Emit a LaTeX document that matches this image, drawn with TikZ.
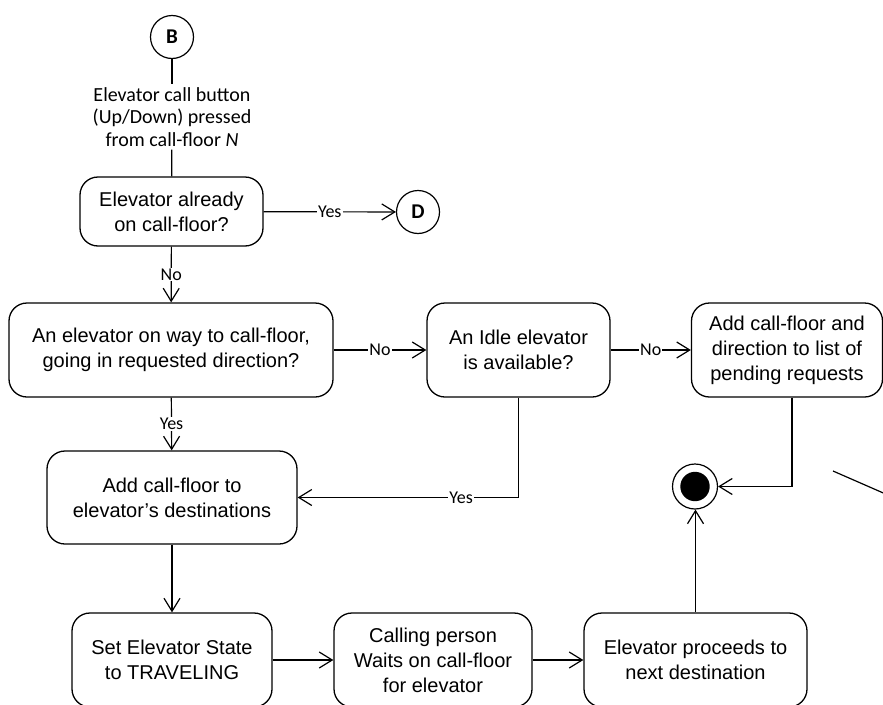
\documentclass[tikz,border=0pt]{standalone}
\usepackage{fontspec}
\usetikzlibrary{arrows.meta,positioning}
\newfontfamily\boxfont{Liberation Sans}
\newfontfamily\calfont{Carlito}

\tikzset{
  act/.style={draw, rounded corners=18pt, line width=1.3pt, align=center,
    inner sep=0pt, font={\boxfont\fontsize{20}{25}\selectfont}},
  conn/.style={draw, circle, line width=1.2pt, minimum size=43pt, inner sep=0pt,
    font={\calfont\bfseries\fontsize{21}{24}\selectfont}},
  flow/.style={line width=1.2pt},
  arr/.style={flow, -{Straight Barb[length=13pt,width=16pt,line width=1.2pt]}},
  lbl/.style={fill=white, inner sep=1pt, font={\calfont\fontsize{18}{20}\selectfont}},
}

\begin{document}
\begin{tikzpicture}[x=1pt, y=-1pt]
  \clip (0,0) rectangle (883,704);
  \fill[white] (0,0) rectangle (883,704);

  % entry connector and trigger event
  \node[conn] (B) at (172,37) {B};
  \node[align=center, inner sep=3pt, font={\calfont\fontsize{20}{22.5}\selectfont}]
    (trig) at (172,117) {Elevator call button\\(Up/Down) pressed\\from call-floor \textit{N}};

  % activities and decisions
  \node[act, minimum width=183pt, minimum height=69pt] (b1) at (171.5,211.5)
    {Elevator already\\on call-floor?};
  \node[conn] (D) at (418,212) {D};
  \node[act, minimum width=324pt, minimum height=94pt] (b2) at (171,350)
    {An elevator on way to call-floor,\\going in requested direction?};
  \node[act, minimum width=183pt, minimum height=94pt] (b3) at (518.5,350)
    {An Idle elevator\\is available?};
  \node[act, minimum width=191pt, minimum height=94pt] (b4) at (787,350)
    {Add call-floor and\\direction to list of\\pending requests};
  \node[act, minimum width=250pt, minimum height=93pt] (b5) at (172,497.5)
    {Add call-floor to\\elevator’s destinations};
  \node[act, minimum width=200pt, minimum height=94pt] (b6) at (172,660)
    {Set Elevator State\\to TRAVELING};
  \node[act, minimum width=198pt, minimum height=94pt] (b7) at (433,660)
    {Calling person\\Waits on call-floor\\for elevator};
  \node[act, minimum width=223pt, minimum height=94pt] (b8) at (695.5,660)
    {Elevator proceeds to\\next destination};

  % final state
  \node[draw, circle, line width=1.2pt, minimum size=45pt, inner sep=0pt] (end) at (695,486.5) {};
  \fill (end.center) circle[radius=14.7pt];

  % connectors
  \draw[flow] (B) -- (trig);
  \draw[flow] (trig) -- (b1);
  \draw[arr] (b1) -- node[lbl]{Yes} (D);
  \draw[arr] (b1) -- node[lbl]{No} (b2);
  \draw[arr] (b2) -- node[lbl]{No} (b3);
  \draw[arr] (b3) -- node[lbl]{No} (b4);
  \draw[arr] (b2) -- node[lbl]{Yes} (b5);
  \draw[arr] (b3.south) |- node[lbl, pos=0.63]{Yes} (b5.east);
  \draw[arr] ([xshift=5pt]b4.south) |- (end.east);
  \draw[arr] (b5) -- (b6);
  \draw[arr] (b6) -- (b7);
  \draw[arr] (b7) -- (b8);
  \draw[arr] (b8.north) -- (b8.north |- end.south);

  % connector leaving the frame on the right
  \coordinate (s1) at (833,471);
  \coordinate (s2) at (900,500.3);
  \draw[flow] (s1) -- (s2);
\end{tikzpicture}
\end{document}
